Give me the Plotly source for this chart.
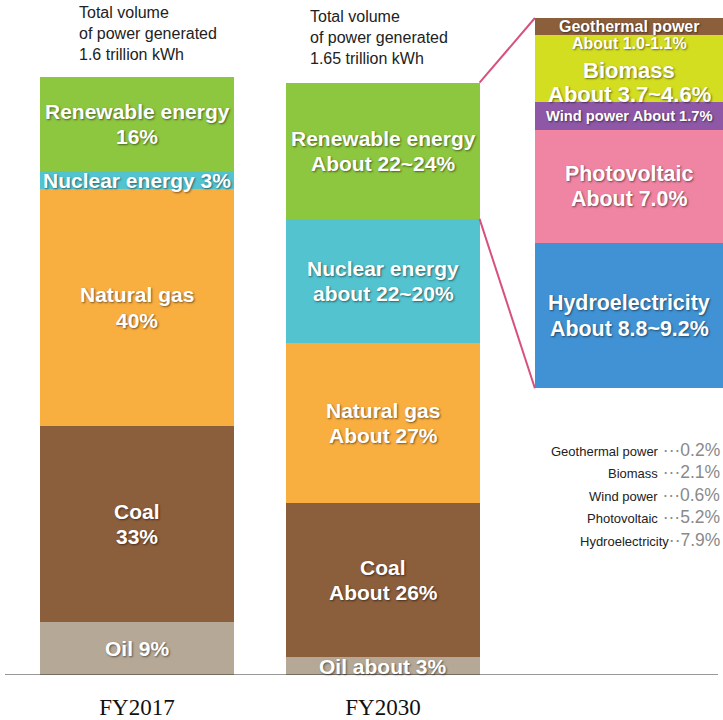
import plotly.graph_objects as go

# ---- data -----------------------------------------------------------------
years = ["FY2017", "FY2030"]
sources = ["Oil", "Coal", "Natural gas", "Nuclear energy", "Renewable energy"]
share_2017 = [9, 33, 40, 3, 16]
share_2030 = [3, 26, 27, 21, 23]          # ranges drawn at their midpoints
labels_2017 = ["Oil 9%", "Coal<br>33%", "Natural gas<br>40%",
               "Nuclear energy 3%", "Renewable energy<br>16%"]
labels_2030 = ["Oil about 3%", "Coal<br>About 26%", "Natural gas<br>About 27%",
               "Nuclear energy<br>about 22~20%", "Renewable energy<br>About 22~24%"]

renew_cat = "Renewables FY2030"
renew_types = ["Hydroelectricity", "Photovoltaic", "Wind power", "Biomass", "Geothermal power"]
renew_2030 = [9.0, 7.0, 1.7, 4.15, 1.05]  # ranges drawn at their midpoints
renew_labels = ["Hydroelectricity<br>About 8.8~9.2%", "Photovoltaic<br>About 7.0%",
                "Wind power About 1.7%", "Biomass<br>About 3.7~4.6%",
                "Geothermal power<br>About 1.0-1.1%"]

fy2017_types = ["Geothermal power", "Biomass", "Wind power", "Photovoltaic", "Hydroelectricity"]
fy2017_values = ["0.2%", "2.1%", "0.6%", "5.2%", "7.9%"]

totals_text = ["Total volume<br>of power generated<br>1.6 trillion kWh",
               "Total volume<br>of power generated<br>1.65 trillion kWh"]

# ---- styling ----------------------------------------------------------------
source_colors = ["#B5A896", "#8B5E3C", "#F9AE40", "#52C3CF", "#8DC63F"]
renew_colors = ["#4092D4", "#F084A3", "#8E58A6", "#D4DE20", "#8B5E3C"]
SANS = "Liberation Sans, Arial, sans-serif"
SHADOW = "1px 1px 2px rgba(0,0,0,0.5)"

W, H = 723, 720
M_B = 42
plot_h = H - M_B
y_max = plot_h / 5.95
y2_lo, y2_hi = -(plot_h - 390) / 16.24, 390 / 16.24
w_main, w_sub = 0.785, 0.765

fig = go.Figure()

for i, name in enumerate(sources):
    fig.add_trace(go.Bar(
        x=years, y=[share_2017[i], share_2030[i]], name=name,
        marker=dict(color=source_colors[i], line=dict(width=0)),
        width=w_main, hoverinfo="x+y+name"))

for i, name in enumerate(renew_types):
    fig.add_trace(go.Bar(
        x=[renew_cat], y=[renew_2030[i]], name=name, yaxis="y2",
        marker=dict(color=renew_colors[i], line=dict(width=0)),
        width=w_sub, hoverinfo="y+name"))

ann = []


def add_label(x, y, xref, yref, text, size, gap, shift=0):
    """Place a (possibly multi-line) bold white label, one annotation per line."""
    lines = text.split("<br>")
    n = len(lines)
    for k, line in enumerate(lines):
        ann.append(dict(x=x, y=y, xref=xref, yref=yref, text=f"<b>{line}</b>",
                        showarrow=False, borderpad=0,
                        yshift=shift - (k - (n - 1) / 2) * gap,
                        font=dict(family=SANS, size=size, color="white", shadow=SHADOW)))


# segment labels on the two main bars
for xcat, vals, labs in ((years[0], share_2017, labels_2017),
                         (years[1], share_2030, labels_2030)):
    base = 0
    for v, lab in zip(vals, labs):
        add_label(xcat, base + v / 2, "x", "y", lab, 21, 25.5)
        base += v

# segment labels on the renewables breakdown bar
sub_font = {"Hydroelectricity": 21.4, "Photovoltaic": 21.4, "Wind power": 14.7,
            "Biomass": 22, "Geothermal power": 16}
sub_gap = {"Hydroelectricity": 26, "Photovoltaic": 25, "Wind power": 0,
           "Biomass": 24, "Geothermal power": 17}
base = 0
for v, lab, name in zip(renew_2030, renew_labels, renew_types):
    if name == "Geothermal power":
        add_label(renew_cat, base + v, "x", "y2", lab, sub_font[name], sub_gap[name], -16.5)
    elif name == "Biomass":
        add_label(renew_cat, base + v / 2, "x", "y2", lab, sub_font[name], sub_gap[name], -14)
    else:
        add_label(renew_cat, base + v / 2, "x", "y2", lab, sub_font[name], sub_gap[name])
    base += v

# total volume notes above the bars
for px, py, txt in ((78, 3, totals_text[0]), (309, 7, totals_text[1])):
    ann.append(dict(x=px / W, y=1 - py / plot_h, xref="paper", yref="paper",
                    xanchor="left", yanchor="top", align="left", text=txt,
                    showarrow=False, borderpad=0,
                    font=dict(family=SANS, size=16, color="#222222")))

# FY2017 renewables breakdown list
for i, (name, val) in enumerate(zip(fy2017_types, fy2017_values)):
    dots = "··" if name == "Hydroelectricity" else " ···"
    txt = f"{name}<span style='font-size:17.5px;color:#8a8a8a'>{dots}{val}</span>"
    ann.append(dict(x=721 / W, y=1 - (452 + 22.5 * i) / plot_h, xref="paper", yref="paper",
                    xanchor="right", yanchor="middle", align="right", text=txt,
                    showarrow=False, borderpad=0,
                    font=dict(family=SANS, size=13, color="#222222")))


# connectors from the FY2030 renewable segment to the breakdown bar
def y_paper(v):
    return v / y_max


def y2_paper(v):
    return (v - y2_lo) / (y2_hi - y2_lo)


shapes = []
x_from, x_to = 1 + w_main / 2, 2 - w_sub / 2
for y_a, y_b in ((y_paper(sum(share_2030)), y2_paper(sum(renew_2030))),
                 (y_paper(sum(share_2030[:-1])), y2_paper(0))):
    shapes.append(dict(type="line", xref="x", yref="paper", x0=x_from, x1=x_to,
                       y0=y_a, y1=y_b, line=dict(color="#D6517D", width=2)))

# baseline
shapes.append(dict(type="line", xref="paper", yref="y", x0=5 / W, x1=718 / W, y0=0, y1=0,
                   line=dict(color="#333333", width=1)))

fig.update_layout(
    width=W, height=H,
    margin=dict(l=0, r=0, t=0, b=M_B, pad=0),
    barmode="stack", showlegend=False,
    plot_bgcolor="white", paper_bgcolor="white",
    xaxis=dict(type="category", categoryorder="array",
               categoryarray=years + [renew_cat],
               range=[-137 / 246, (W - 137) / 246],
               tickvals=years, ticktext=years, ticks="", showgrid=False,
               showline=False, zeroline=False, ticklabelstandoff=16,
               tickfont=dict(family="Liberation Serif, Times New Roman, serif",
                             size=23, color="#111111")),
    yaxis=dict(range=[0, y_max], visible=False, fixedrange=True),
    yaxis2=dict(range=[y2_lo, y2_hi], overlaying="y", visible=False, fixedrange=True),
    annotations=ann, shapes=shapes,
)

fig.write_html("out.html")
